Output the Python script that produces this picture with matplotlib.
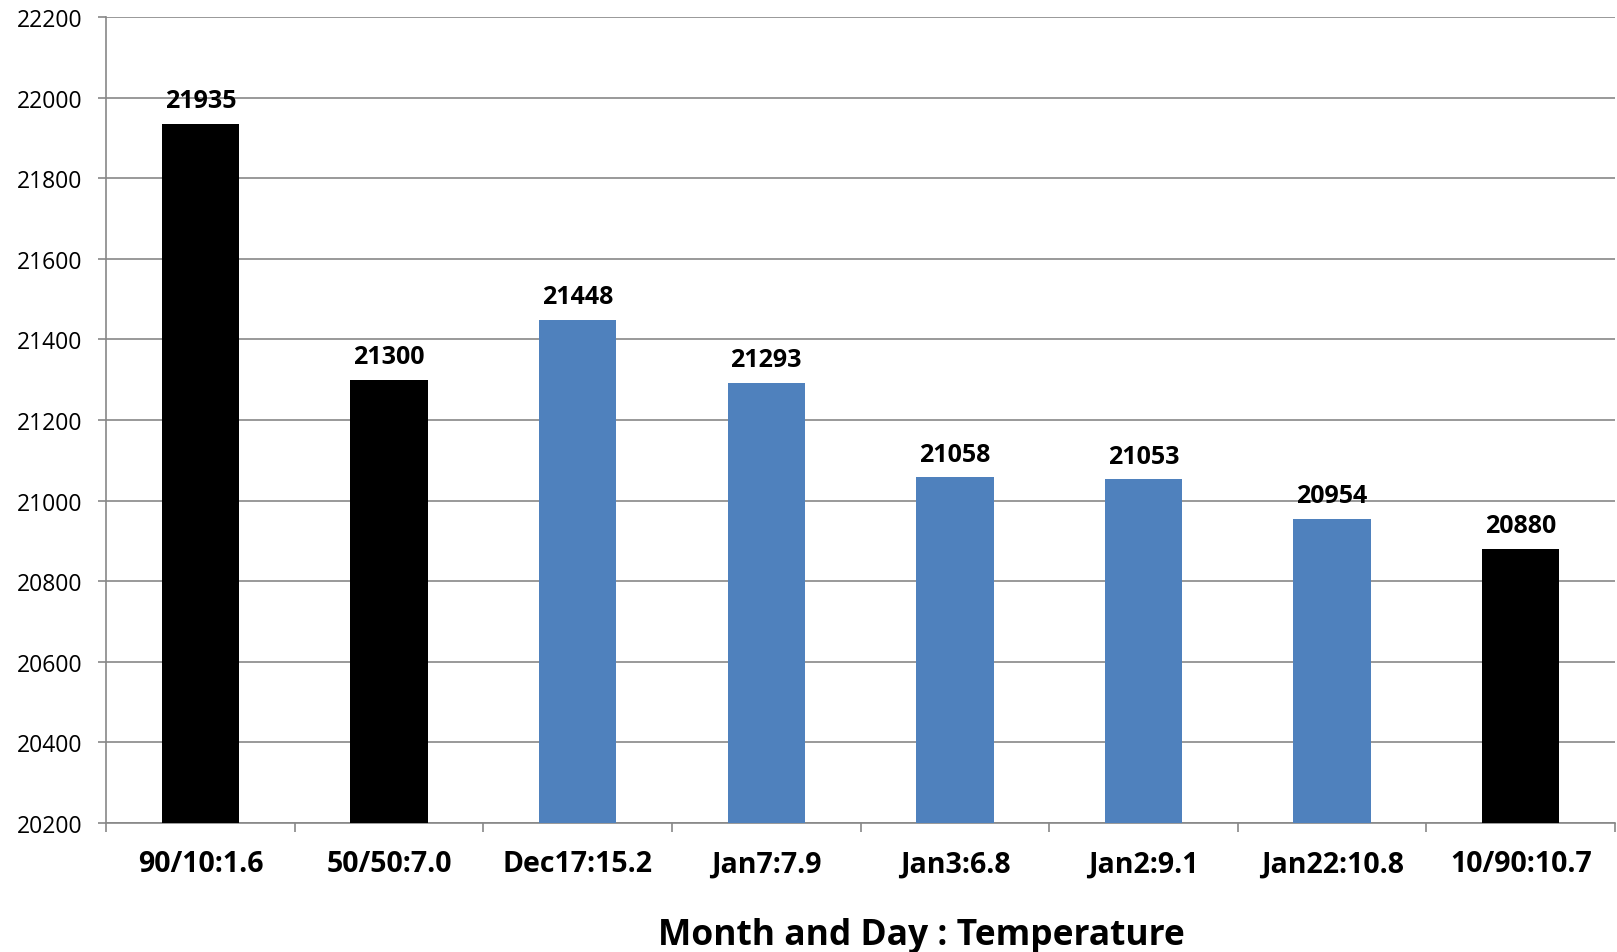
import matplotlib
matplotlib.use("Agg")
import matplotlib.pyplot as plt

categories = ["90/10:1.6", "50/50:7.0", "Dec17:15.2", "Jan7:7.9",
              "Jan3:6.8", "Jan2:9.1", "Jan22:10.8", "10/90:10.7"]
values = [21935, 21300, 21448, 21293, 21058, 21053, 20954, 20880]
bar_colors = ["#000000", "#000000", "#4F81BD", "#4F81BD",
              "#4F81BD", "#4F81BD", "#4F81BD", "#000000"]
y_ticks = list(range(20200, 22201, 200))

plt.rcParams["font.family"] = ["Open Sans", "DejaVu Sans"]
grid_col = "#878787"

fig = plt.figure(figsize=(16.17, 9.53), dpi=100)
ax = fig.add_axes([0.0656, 0.1354, 0.9332, 0.8456])

x = list(range(len(categories)))
ax.bar(x, [v - 20200 for v in values], bottom=20200, width=0.41,
       color=bar_colors, linewidth=0, zorder=3)
for xi, v in zip(x, values):
    ax.annotate(str(v), (xi, v), xytext=(0, 12), textcoords="offset points",
                ha="center", va="baseline", fontsize=18, fontweight="bold",
                zorder=4)

ax.set_xlim(-0.5, len(categories) - 0.5)
ax.set_ylim(20200, 22200)
ax.set_yticks(y_ticks)
ax.set_yticklabels([str(t) for t in y_ticks], fontsize=16.5)
ax.yaxis.grid(True, color=grid_col, linewidth=1.2, zorder=0)

ax.set_xticks(x)
ax.set_xticklabels(categories, fontsize=20.5, fontweight="bold")
ax.tick_params(axis="x", length=0, pad=19)
ax.set_xticks([i - 0.5 for i in range(len(categories) + 1)], minor=True)
ax.tick_params(axis="x", which="minor", length=6.5, width=1.2, color=grid_col)
ax.tick_params(axis="y", length=6, width=1.2, color=grid_col, pad=11)

for s in ["top", "right"]:
    ax.spines[s].set_visible(False)
for s in ["left", "bottom"]:
    ax.spines[s].set_color(grid_col)
    ax.spines[s].set_linewidth(1.2)

fig.text(0.570, 0.0084, "Month and Day : Temperature", ha="center",
         va="baseline", fontsize=25.5, fontweight="bold")

fig.savefig("out.png", dpi=100)
